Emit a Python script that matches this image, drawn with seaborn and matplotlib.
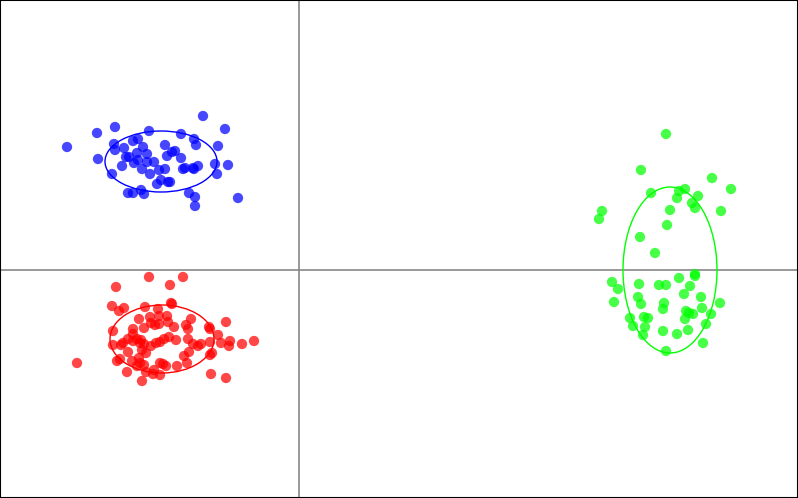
import matplotlib
matplotlib.use("Agg")
import matplotlib.pyplot as plt
from matplotlib.patches import Ellipse
import seaborn as sns
import pandas as pd

blue_x = [-9.6, -18.4, -20.2, -7.4, -15.0, -11.8, -10.5, -10.3, -23.2, -18.5, -18.4, -16.6, -16.1, -17.5,
          -15.6, -13.4, -8.1, -16.2, -15.2, -12.7, -12.4, -13.2, -11.8, -17.3, -17.0, -16.1, -16.5, -20.1,
          -15.2, -14.5, -17.7, -15.7, -14.9, -14.0, -13.4, -11.6, -11.4, -10.6, -10.1, -10.5, -8.4, -7.1,
          -18.7, -8.2, -13.8, -14.2, -13.1, -12.9, -17.1, -16.6, -15.8, -15.5, -11.0, -10.4, -10.4, -6.1]
blue_y = [15.4, 14.3, 13.7, 14.1, 13.9, 13.6, 13.1, 12.5, 12.3, 12.6, 12.0, 12.9, 13.1, 12.2,
          12.3, 12.5, 12.4, 11.7, 11.6, 11.8, 11.9, 11.4, 11.2, 11.3, 11.3, 11.0, 10.7, 11.1,
          10.8, 10.8, 10.4, 10.1, 9.6, 10.0, 10.1, 10.1, 10.2, 10.2, 10.4, 10.1, 10.6, 10.5,
          9.6, 9.6, 9.0, 8.6, 8.8, 8.8, 7.7, 7.7, 8.0, 7.6, 7.7, 7.3, 6.4, 7.2]

red_x = [-15.0, -11.6, -18.3, -12.9, -18.7, -18.0, -17.5, -15.4, -12.8, -12.7, -14.1, -16.0, -14.9, -14.0,
         -13.2, -10.8, -14.8, -14.4, -14.0, -13.1, -12.5, -11.3, -11.1, -15.5, -16.6, -18.6, -16.6, -9.0,
         -8.9, -7.3, -8.1, -11.1, -12.3, -13.0, -13.5, -13.9, -14.3, -14.8, -15.8, -16.2, -16.6, -17.1,
         -17.6, -17.8, -18.6, -15.9, -15.5, -10.6, -9.8, -10.1, -8.9, -7.8, -7.0, -6.9, -5.7, -4.5,
         -22.2, -18.2, -17.9, -17.1, -15.7, -15.3, -16.0, -16.7, -15.9, -16.2, -15.5, -17.2, -15.3, -14.5,
         -14.6, -13.9, -13.9, -13.6, -13.3, -12.2, -11.5, -11.0, -11.2, -8.7, -8.9, -8.8, -7.3, -15.7]
red_y = [-0.7, -0.7, -1.7, -1.5, -3.6, -4.1, -3.8, -3.7, -3.3, -3.4, -3.9, -4.9, -4.7, -4.6,
         -4.6, -4.9, -5.3, -5.5, -5.4, -5.2, -5.7, -5.5, -5.9, -5.8, -5.9, -6.1, -6.4, -5.7,
         -5.9, -5.2, -6.5, -6.9, -7.0, -6.7, -6.9, -7.2, -7.3, -7.6, -7.0, -6.9, -7.1, -6.9,
         -7.3, -7.5, -7.5, -7.3, -7.4, -7.4, -7.4, -7.6, -7.2, -7.3, -7.6, -7.1, -7.4, -7.1,
         -9.3, -9.1, -8.9, -8.2, -8.0, -8.3, -8.8, -9.1, -9.3, -9.6, -9.5, -10.2, -10.2, -10.0,
         -10.4, -10.5, -9.3, -9.4, -9.6, -9.6, -8.6, -8.2, -9.3, -8.3, -8.5, -10.4, -10.8, -11.1]

green_x = [36.7, 34.2, 41.3, 43.2, 35.2, 38.0, 38.6, 37.8, 39.9, 39.3, 39.6, 42.2, 30.3, 30.0,
           37.1, 36.8, 34.1, 35.6, 39.6, 39.6, 38.0, 31.3, 31.9, 34.0, 36.0, 36.7, 39.1, 38.5,
           33.9, 40.2, 31.5, 34.2, 36.5, 36.4, 42.1, 40.3, 38.7, 39.0, 39.4, 41.2, 38.6, 33.1,
           34.5, 34.9, 33.4, 34.6, 40.7, 34.4, 36.4, 37.8, 38.9, 40.4, 36.7]
green_y = [13.6, 10.0, 9.2, 8.1, 7.7, 7.9, 8.1, 7.2, 7.4, 6.7, 6.2, 5.9, 5.9, 5.1,
           6.0, 4.5, 3.3, 1.7, -0.4, -0.6, -0.8, -1.2, -1.9, -1.4, -1.5, -1.5, -1.6, -2.4,
           -2.7, -2.7, -3.2, -3.4, -3.3, -3.9, -3.3, -3.8, -4.1, -4.3, -4.4, -4.4, -4.9, -4.8,
           -4.7, -4.8, -5.6, -5.7, -5.4, -6.5, -6.1, -6.4, -6.0, -7.3, -8.1]

groups = ["blue", "red", "green"]
colors = ["#0000ff", "#ff0000", "#00ff00"]
ell_center_x = [-13.8, -13.7, 37.1]
ell_center_y = [10.85, -6.9, 0.0]
ell_width = [11.2, 10.4, 9.4]
ell_height = [6.1, 6.8, 16.6]

df = pd.concat([
    pd.DataFrame({"x": blue_x, "y": blue_y, "g": "blue"}),
    pd.DataFrame({"x": red_x, "y": red_y, "g": "red"}),
    pd.DataFrame({"x": green_x, "y": green_y, "g": "green"}),
], ignore_index=True)

sns.set_style("white")
fig = plt.figure(figsize=(7.98, 4.98), dpi=100)
ax = fig.add_axes([0, 0, 1, 1])
ax.axhline(0, color="#888888", lw=1.2, zorder=0)
ax.axvline(0, color="#888888", lw=1.2, zorder=0)
sns.scatterplot(data=df, x="x", y="y", hue="g", hue_order=groups,
                palette=dict(zip(groups, colors)), s=55, alpha=0.72,
                edgecolor="none", legend=False, ax=ax, zorder=2)
for cx, cy, w, h, c in zip(ell_center_x, ell_center_y, ell_width, ell_height, colors):
    ax.add_patch(Ellipse((cx, cy), w, h, fill=False, edgecolor=c, lw=1, zorder=3))

ax.set_xlim(-29.9, 49.9)
ax.set_ylim(-22.8, 27.0)
ax.set_xticks([])
ax.set_yticks([])
ax.set_xlabel("")
ax.set_ylabel("")
for sp in ax.spines.values():
    sp.set_visible(True)
    sp.set_color("black")
    sp.set_linewidth(1.5)
fig.savefig("out.png", dpi=100)
